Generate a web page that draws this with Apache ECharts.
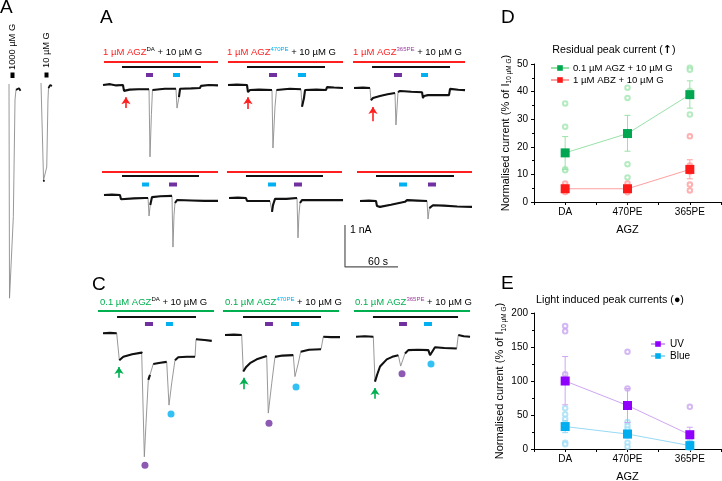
<!DOCTYPE html>
<html><head><meta charset="utf-8">
<script src="https://cdn.jsdelivr.net/npm/echarts@6/dist/echarts.min.js"></script>
<style>html,body{margin:0;padding:0;background:#fff}#c{width:722px;height:481px}</style>
</head><body><div id="c"></div>
<script>
// ================= DATA =================
const agzForms = ['DA', '470PE', '365PE'];

// Panel D: residual peak current (% of I 10 µM G)
const dGreenMean = [17.8, 24.8, 38.9];
const dGreenErr = [[11.8, 23.7], [18.4, 31.4], [34.0, 43.9]];
const dGreenCells = [[35.7, 27.3, 11.9, 11.5], [41.4, 37.7, 13.7, 8.9], [48.6, 47.9, 40.3, 31.7]];
const dRedMean = [4.8, 4.8, 11.8];
const dRedErr = [[4.0, 5.6], [4.0, 5.6], [8.4, 15.3]];
const dRedCells = [[6.7, 5.5, 4.5, 3.6], [6.7, 5.5, 4.2, 3.5], [23.8, 13.2, 11.0, 6.3, 4.2]];

// Panel E: light induced peak currents (% of I 10 µM G)
const eUvMean = [100, 64, 21];
const eUvErr = [[65, 136], [39, 89], [10, 32]];
const eUvCells = [[181, 173, 110], [143, 89], [62]];
const eBlueMean = [33, 22, 5];
const eBlueErr = [[24, 42], [16, 28], [1, 9]];
const eBlueCells = [[60, 51, 44, 38, 9.3, 7], [39.7, 33.8, 28.9, 9.3, 3.4], [13, 9, 7, 2]];

// Current traces: [time (s) from panel start, current (nA) relative to initial baseline]
const traceG1000 = [[0,0],[0.6,-5.1],[4.9,-3.16],[6.8,-0.38],[7.9,-0.14],[9.5,-0.1],[11.3,-0.1],[13,-0.16]];
const traceG10 = [[0,0],[2.9,-2.31],[3.7,-2.35],[6.5,-2.0],[7.9,-0.4],[8.5,-0.12],[10.2,-0.05],[12.5,-0.07]];

const traceA_DA = [[0,0],[8,0.02],[15,-0.01],[22.6,0],[23.8,-0.14],[30,-0.11],[40,-0.1],[52.1,-0.1],[53.2,-1.71],[54.8,-0.7],[56,-0.12],[57,-0.1],[70,-0.09],[82.6,-0.09],[83.8,-0.55],[86,-0.29],[87.2,-0.09],[100,-0.08],[109.8,-0.07],[110.9,-0.02],[120,0],[130.2,-0.01]];
const traceA_470PE = [[0,0],[10,0.01],[21.5,0],[22.6,-0.17],[24.9,-0.12],[35,-0.11],[49.8,-0.12],[50.9,-1.5],[53.2,-0.52],[54.9,-0.12],[56.6,-0.1],[70,-0.09],[82.6,-0.1],[83.8,-0.52],[86,-0.31],[87.2,-0.12],[100,-0.11],[110.9,-0.12],[112.1,-0.05],[120,-0.06],[130.2,-0.07]];
const traceA_365PE = [[0,0],[10,0.01],[18.1,0],[19.2,-0.29],[21.5,-0.24],[29.4,-0.19],[38,-0.15],[46.4,-0.12],[47.5,-0.88],[48.7,-0.48],[49.8,-0.1],[52.1,-0.07],[65,-0.09],[77,-0.1],[78.1,-0.24],[79.2,-0.19],[83.8,-0.17],[95,-0.17],[107.6,-0.17],[108.7,-0.02],[118,-0.04],[125.7,-0.05]];

const traceB_DA = [[1.1,0],[10,0.01],[19.2,0],[20.4,-0.1],[35,-0.08],[47.5,-0.07],[51,-0.07],[52.1,-0.5],[53.5,-0.24],[55.5,-0.05],[65,-0.03],[78.1,-0.02],[79.2,-1.24],[80.4,-0.48],[81.5,-0.19],[83.8,-0.12],[100,-0.13],[115,-0.14],[130.2,-0.14]];
const traceB_470PE = [[0,0],[10,0.01],[19.2,0],[20.4,-0.07],[35,-0.07],[46.4,-0.07],[48.7,-0.33],[49.8,-0.17],[52.1,-0.02],[65,-0.02],[77,0],[78.1,-0.95],[79.2,-0.4],[80.4,-0.12],[82.6,-0.05],[105,-0.05],[129.1,-0.05]];
const traceB_365PE = [[0,0],[10,0.01],[18.1,0],[19.2,-0.12],[22.6,-0.14],[35,-0.09],[50.9,-0.02],[53.2,0.02],[65,0.01],[75.9,0],[77,-0.43],[78.5,-0.17],[82.6,-0.1],[95,-0.11],[110,-0.13],[126.8,-0.14]];

const traceC_DA = [[0,0],[8,0.01],[15.5,0],[18.5,-0.64],[23,-0.56],[33,-0.5],[43.8,-0.46],[44.5,-0.47],[46.8,-2.94],[48.7,-2.14],[51.3,-1.11],[53.2,-0.99],[56.9,-0.73],[65,-0.7],[72.1,-0.68],[74.7,-1.71],[77.8,-1.18],[81.5,-0.64],[85.2,-0.57],[95,-0.56],[104.2,-0.56],[105.3,-0.14],[115,-0.16],[123.1,-0.18]];
const traceC_470PE = [[0,0],[10,0.01],[18.9,0],[20.7,-0.87],[24,-0.76],[28.3,-0.67],[35.9,-0.58],[47.2,-0.5],[49,-1.86],[52.9,-1.15],[56.6,-0.52],[65,-0.49],[77.3,-0.48],[79.2,-0.99],[83,-0.67],[85.7,-0.4],[95,-0.35],[108.7,-0.34],[111.3,-0.04],[120,-0.05],[130.2,-0.05]];
const traceC_365PE = [[0,0],[10,0.01],[19.6,0],[21.5,-1.07],[24,-0.9],[27.2,-0.71],[34.8,-0.54],[41,-0.48],[47.9,-0.44],[50.6,-0.7],[55.5,-0.4],[59.2,-0.32],[70,-0.31],[81.9,-0.32],[83.8,-0.44],[89.4,-0.25],[100,-0.27],[114,-0.28],[115.8,0.04],[122,0.01],[129.1,0]];

// Application periods [start, end] (s), per panel DA / 470PE / 365PE
const drugA = [[1.1,130.2],[0,130.2],[-1.1,125.7]];
const lightWinA = [[21.5,110.9],[21.5,109.8],[20.4,108.7]];
const uvA = [[48.7,56.6],[46.4,55.5],[45.3,54.3]];
const blueA = [[79.2,87.2],[79.2,88.3],[75.9,83.8]];
const drugB = [[-1.1,130.2],[-2.3,127.9],[-3.4,126.8]];
const lightWinB = [[21.5,108.7],[19.2,106.4],[18.1,106.4]];
const uvB = [[74.7,83.8],[73.6,82.6],[77,86]];
const blueB = [[44.2,52.1],[44.2,53.2],[44.2,53.2]];
const drugC = [[-5.7,125.7],[-2.3,129.1],[-2.3,129.1]];
const lightWinC = [[15.9,105.3],[20.4,108.7],[19.2,115.5]];
const uvC = [[47.5,56.6],[45.3,54.3],[48.7,57.7]];
const blueC = [[71.3,79.2],[74.7,83.8],[77,86]];

// Residual current arrows [time, tail nA, tip nA]
const arrowA = [[26,-0.55,-0.29],[22.6,-0.57,-0.29],[21.5,-0.79,-0.45]];
const arrowC = [[18.1,-1.06,-0.8],[21.5,-1.29,-1.02],[21.5,-1.48,-1.22]];
// Light-induced peak markers [time, nA]
const uvPeakC = [[47.5,-3.14],[49.8,-2.1],[52.1,-0.88]];
const bluePeakC = [[77,-1.92],[80.4,-1.24],[84.9,-0.65]];
// Scale bar: 1 nA, 60 s
const scaleNA = 1, scaleS = 60;

// ================= LAYOUT =================
const FF = '"Liberation Sans", Arial, sans-serif';
const PX_PER_S = 53 / 60, PX_PER_NA = 42;
const T_MIN = -25, T_MAX = 140;
const grids = [], xAxes = [], yAxes = [], series = [];

function addGrid(x0, yb, iMin, iMax) {
  const idx = grids.length;
  grids.push({ left: x0 + T_MIN * PX_PER_S, top: yb - iMax * PX_PER_NA,
    width: (T_MAX - T_MIN) * PX_PER_S, height: (iMax - iMin) * PX_PER_NA,
    show: false, containLabel: false, outerBoundsMode: 'none' });
  xAxes.push({ type: 'value', gridIndex: idx, min: T_MIN, max: T_MAX, show: false });
  yAxes.push({ type: 'value', gridIndex: idx, min: iMin, max: iMax, show: false });
  return idx;
}
function line(g, data, color, width, z, extra) {
  const s = Object.assign({ type: 'line', xAxisIndex: g, yAxisIndex: g, data, showSymbol: false, symbol: 'none',
    lineStyle: { color, width, cap: 'butt' }, clip: false, silent: true, animation: false, z: z || 2,
    connectNulls: false }, extra || {});
  series.push(s); return s;
}
function thickData(tr) {
  const out = [];
  tr.forEach((p, i) => {
    if (i > 0) {
      const q = tr[i - 1];
      const dx = Math.abs(p[0] - q[0]) * PX_PER_S, dy = Math.abs(p[1] - q[1]) * PX_PER_NA;
      if (dy > 9 && dy > 2.2 * dx) out.push([(p[0] + q[0]) / 2, '-']);
    }
    out.push(p);
  });
  return out;
}
const rowStyle = {
  A: { drug: '#ff1f1f', drugY: 62, winY: 67, lightY: 75, arrow: '#ff1f1f', periods: [drugA, lightWinA, uvA, blueA], arrows: arrowA },
  B: { drug: '#ff1f1f', drugY: 172, winY: 176, lightY: 184.5, periods: [drugB, lightWinB, uvB, blueB] },
  C: { drug: '#00b050', drugY: 311, winY: 317, lightY: 324, arrow: '#00b050', periods: [drugC, lightWinC, uvC, blueC], arrows: arrowC }
};
const UVC = '#7030a0', BLC = '#00b0f0';
const panels = [
  ['A', 0, traceA_DA, 103, 85], ['A', 1, traceA_470PE, 228, 85], ['A', 2, traceA_365PE, 354, 88],
  ['B', 0, traceB_DA, 103, 195], ['B', 1, traceB_470PE, 229, 198], ['B', 2, traceB_365PE, 360, 201],
  ['C', 0, traceC_DA, 103, 333.3], ['C', 1, traceC_470PE, 225, 335], ['C', 2, traceC_365PE, 356, 336.7]
];
panels.forEach(([row, j, tr, x0, yb]) => {
  const g = addGrid(x0, yb, -3.5, 1);
  const rs = rowStyle[row];
  const lv = y => (yb - y) / PX_PER_NA;
  const [drug, win, uv, blue] = rs.periods;
  line(g, tr, '#8c8c8c', 0.9, 3);
  line(g, thickData(tr), '#111', 2.1, 4);
  line(g, drug[j].map(t => [t, lv(rs.drugY)]), rs.drug, 2, 2);
  line(g, win[j].map(t => [t, lv(rs.winY)]), '#111', 1.8, 2);
  line(g, uv[j].map(t => [t, lv(rs.lightY)]), UVC, 4, 2);
  line(g, blue[j].map(t => [t, lv(rs.lightY)]), BLC, 4, 2);
  if (rs.arrows) {
    const a = rs.arrows[j];
    line(g, [], rs.arrow, 1, 5, { markLine: { silent: true, animation: false, symbol: ['none', 'arrow'], symbolSize: 7,
      label: { show: false }, lineStyle: { color: rs.arrow, width: 1.6, type: 'solid' },
      data: [[{ coord: [a[0], a[1]] }, { coord: [a[0], a[2]] }]] } });
  }
  if (row === 'C') {
    series.push({ type: 'scatter', xAxisIndex: g, yAxisIndex: g, data: [uvPeakC[j]], symbolSize: 7, itemStyle: { color: UVC }, silent: true, animation: false, clip: false, z: 5 });
    series.push({ type: 'scatter', xAxisIndex: g, yAxisIndex: g, data: [bluePeakC[j]], symbolSize: 7, itemStyle: { color: BLC }, silent: true, animation: false, clip: false, z: 5 });
  }
  if (row === 'B' && j === 2) {
    const t0 = -17, i0 = -1.57;
    line(g, [[t0, i0 + scaleNA], [t0, i0], [t0 + scaleS, i0]], '#555', 1.2, 2);
  }
});
// left traces (G alone)
[[traceG1000, 9, 84], [traceG10, 41, 83]].forEach(([tr, x0, yb]) => {
  const g = addGrid(x0, yb, -5.5, 1);
  line(g, tr, '#8c8c8c', 0.9, 3);
  line(g, thickData(tr), '#111', 1.8, 4);
});

// ---- panels D & E ----
function addCatGrid(top, height, yMax, yInt, yName) {
  const idx = grids.length;
  grids.push({ left: 534, top, width: 187, height, show: false, containLabel: false, outerBoundsMode: 'none' });
  xAxes.push({ type: 'value', gridIndex: idx, min: -0.5, max: 2.5, interval: 0.5,
    axisLine: { show: true, onZero: false, lineStyle: { color: '#000', width: 1 } },
    axisTick: { show: true, length: 3, lineStyle: { color: '#000' } }, splitLine: { show: false },
    axisLabel: { color: '#000', fontSize: 10, fontFamily: FF, margin: 5,
      formatter: v => Math.abs(v - Math.round(v)) < 1e-6 && v >= 0 && v <= 2 ? agzForms[Math.round(v)] : '' },
    name: 'AGZ', nameLocation: 'middle', nameGap: 22, nameTextStyle: { color: '#000', fontSize: 11, fontFamily: FF } });
  yAxes.push({ type: 'value', gridIndex: idx, min: 0, max: yMax, interval: yInt,
    axisLine: { show: true, onZero: false, lineStyle: { color: '#000', width: 1 } },
    axisTick: { show: true, length: 3, lineStyle: { color: '#000' } },
    minorTick: { show: true, splitNumber: 2, length: 2, lineStyle: { color: '#000' } },
    splitLine: { show: false }, minorSplitLine: { show: false },
    axisLabel: { color: '#000', fontSize: 10, fontFamily: FF, margin: 6 },
    name: 'Normalised current (% of I{sub|10 µM G})', nameLocation: 'middle', nameGap: 17,
    nameTextStyle: { color: '#000', fontSize: 11, fontFamily: FF, lineHeight: 14,
      rich: { sub: { fontSize: 6.5, fontFamily: FF, color: '#000', verticalAlign: 'bottom', lineHeight: 8 } } } });
  return idx;
}
function cells(arr) { return arr.flatMap((vals, i) => vals.map(v => [i, v])); }
function errSeries(g, err, color) {
  return { type: 'custom', xAxisIndex: g, yAxisIndex: g, data: err.map((e, i) => [i, e[0], e[1]]),
    encode: { x: 0, y: [1, 2] }, silent: true, animation: false, z: 3,
    renderItem: (p, api) => {
      const x = api.value(0), a = api.coord([x, api.value(1)]), b = api.coord([x, api.value(2)]), w = 3;
      const st = { stroke: color, lineWidth: 1 };
      return { type: 'group', children: [
        { type: 'line', shape: { x1: a[0], y1: a[1], x2: b[0], y2: b[1] }, style: st },
        { type: 'line', shape: { x1: a[0] - w, y1: a[1], x2: a[0] + w, y2: a[1] }, style: st },
        { type: 'line', shape: { x1: b[0] - w, y1: b[1], x2: b[0] + w, y2: b[1] }, style: st }] };
    } };
}
function group(g, name, mean, err, cellVals, dark, light, cellColor) {
  series.push({ type: 'scatter', xAxisIndex: g, yAxisIndex: g, data: cells(cellVals), symbol: 'emptyCircle', symbolSize: 4.5,
    itemStyle: { color: cellColor, borderWidth: 1 }, silent: true, animation: false, z: 2 });
  series.push(errSeries(g, err, light));
  series.push({ type: 'line', name, xAxisIndex: g, yAxisIndex: g, data: mean.map((v, i) => [i, v]),
    symbol: 'rect', symbolSize: 9, showSymbol: true, itemStyle: { color: dark },
    lineStyle: { color: light, width: 1 }, silent: true, animation: false, z: 4 });
}
const gD = addCatGrid(64, 138, 50, 10);
group(gD, '0.1 µM AGZ + 10 µM G', dGreenMean, dGreenErr, dGreenCells, '#00a650', '#98e2a8', '#a2e6b0');
group(gD, '1 µM ABZ + 10 µM G', dRedMean, dRedErr, dRedCells, '#ff1a1a', '#ffa0a0', '#ff9c9c');
const gE = addCatGrid(313, 136, 200, 50);
group(gE, 'UV', eUvMean, eUvErr, eUvCells, '#8f00ff', '#cfa6f2', '#c9a6f0');
group(gE, 'Blue', eBlueMean, eBlueErr, eBlueCells, '#00aeef', '#98daf6', '#a4def6');

// ---- text graphics ----
function txt(x, y, text, size, extra) {
  return Object.assign({ type: 'text', x, y, silent: true,
    style: Object.assign({ text, fontSize: size, fontFamily: FF, fill: '#000', textAlign: 'left', textVerticalAlign: 'top', align: 'left', verticalAlign: 'top' }, extra || {}) });
}
function rowLabel(x, y, pre, preColor, sup, supColor) {
  return { type: 'text', x, y, silent: true, style: {
    text: '{a|' + pre + '}{s|' + sup + '}{b| + 10 µM G}', textVerticalAlign: 'middle', verticalAlign: 'middle',
    rich: { a: { fill: preColor, fontSize: 9.5, fontFamily: FF, lineHeight: 12 },
            s: { fill: supColor, fontSize: 6, fontFamily: FF, verticalAlign: 'top', lineHeight: 7 },
            b: { fill: '#000', fontSize: 9.5, fontFamily: FF, lineHeight: 12 } } } };
}
const SUP_470 = '#00b0f0', SUP_365 = '#a040a0';
const graphics = [
  txt(0, -2, 'A', 19), txt(100, 8, 'A', 19), txt(92, 275, 'C', 19), txt(501, 8, 'D', 19), txt(501, 274, 'E', 19),
  rowLabel(103, 52, '1 µM AGZ', '#ff1f1f', 'DA', '#000'),
  rowLabel(227, 52, '1 µM AGZ', '#ff1f1f', '470PE', SUP_470),
  rowLabel(353, 52, '1 µM AGZ', '#ff1f1f', '365PE', SUP_365),
  rowLabel(100, 302, '0.1 µM AGZ', '#00b050', 'DA', '#000'),
  rowLabel(225, 302, '0.1 µM AGZ', '#00b050', '470PE', SUP_470),
  rowLabel(355, 302, '0.1 µM AGZ', '#00b050', '365PE', SUP_365),
  txt(350, 230, '1 nA', 10.5, { textVerticalAlign: 'middle', verticalAlign: 'middle' }),
  txt(378, 262, '60 s', 10.5, { textAlign: 'center', align: 'center', textVerticalAlign: 'middle', verticalAlign: 'middle' }),
  { type: 'text', x: 614, y: 50, silent: true, style: { text: '{t|Residual peak current (}{ar|↑}{t|)}',
      textAlign: 'center', align: 'center', textVerticalAlign: 'middle', verticalAlign: 'middle',
      rich: { t: { fill: '#000', fontSize: 10.7, fontFamily: FF }, ar: { fill: '#000', fontSize: 11, fontWeight: 'bold', fontFamily: '"DejaVu Sans"' } } } },
  txt(610, 300, 'Light induced peak currents (●)', 10.7, { textAlign: 'center', align: 'center', textVerticalAlign: 'middle', verticalAlign: 'middle' }),
  { type: 'text', x: 12.5, y: 70, rotation: Math.PI / 2, silent: true, style: { text: '1000 µM G', fontSize: 9.3, fontFamily: FF, fill: '#000', textAlign: 'left', align: 'left', textVerticalAlign: 'middle', verticalAlign: 'middle' } },
  { type: 'text', x: 46.5, y: 68, rotation: Math.PI / 2, silent: true, style: { text: '10 µM G', fontSize: 9.3, fontFamily: FF, fill: '#000', textAlign: 'left', align: 'left', textVerticalAlign: 'middle', verticalAlign: 'middle' } },
  { type: 'rect', silent: true, shape: { x: 10.5, y: 72.5, width: 4, height: 5.5 }, style: { fill: '#000' } },
  { type: 'rect', silent: true, shape: { x: 44.5, y: 72.5, width: 4, height: 5 }, style: { fill: '#000' } }
];

const chart = echarts.init(document.getElementById('c'), null, { renderer: 'canvas', width: 722, height: 481 });
chart.setOption({
  backgroundColor: '#fff', animation: false,
  textStyle: { fontFamily: FF },
  grid: grids, xAxis: xAxes, yAxis: yAxes, series,
  legend: [
    { data: ['0.1 µM AGZ + 10 µM G', '1 µM ABZ + 10 µM G'], left: 550, top: 63, orient: 'vertical', itemWidth: 18, itemHeight: 7, itemGap: 2,
      textStyle: { fontSize: 9.6, color: '#000', fontFamily: FF, padding: [0, 0, 0, -1] }, selectedMode: false, padding: 0 },
    { data: ['UV', 'Blue'], left: 650, top: 339, orient: 'vertical', itemWidth: 14, itemHeight: 7, itemGap: 2,
      textStyle: { fontSize: 10, color: '#000', fontFamily: FF }, selectedMode: false, padding: 0 }
  ],
  graphic: graphics
});
</script></body></html>
